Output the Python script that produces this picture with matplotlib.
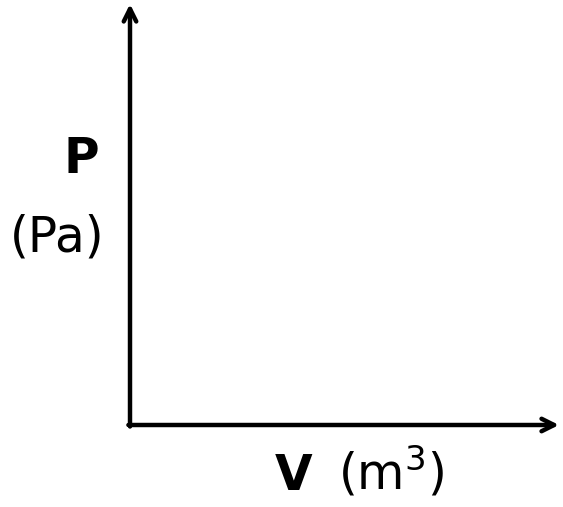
import matplotlib.pyplot as plt

# Axis labels of the (empty) P-V diagram
Y_LABEL_MAIN = "P"
Y_LABEL_UNIT = "(Pa)"
X_LABEL_MAIN = "V"
X_LABEL_UNIT = r"(m$^{3}$)"

W, H = 563, 507
plt.rcParams["mathtext.fontset"] = "dejavusans"
fig = plt.figure(figsize=(W / 100, H / 100), dpi=100)
ax = fig.add_axes([0, 0, 1, 1])
ax.set_xlim(0, W)
ax.set_ylim(H, 0)
ax.axis("off")

arrow = dict(arrowstyle="->,head_length=0.9,head_width=0.45", lw=3.2,
             color="black", shrinkA=0, shrinkB=0)
ax.annotate("", xy=(130, 4), xytext=(130, 426.5), arrowprops=arrow)
ax.annotate("", xy=(559, 425), xytext=(128.4, 425), arrowprops=arrow)

FS = 35
ax.text(81, 173, Y_LABEL_MAIN, fontsize=FS, fontweight="bold",
        ha="center", va="baseline")
ax.text(57.5, 252, Y_LABEL_UNIT, fontsize=FS, ha="center", va="baseline")
ax.text(275, 490, X_LABEL_MAIN, fontsize=FS, fontweight="bold",
        ha="left", va="baseline")
ax.text(391, 490, X_LABEL_UNIT, fontsize=FS, ha="center", va="baseline")

fig.savefig("out.png", dpi=100)
